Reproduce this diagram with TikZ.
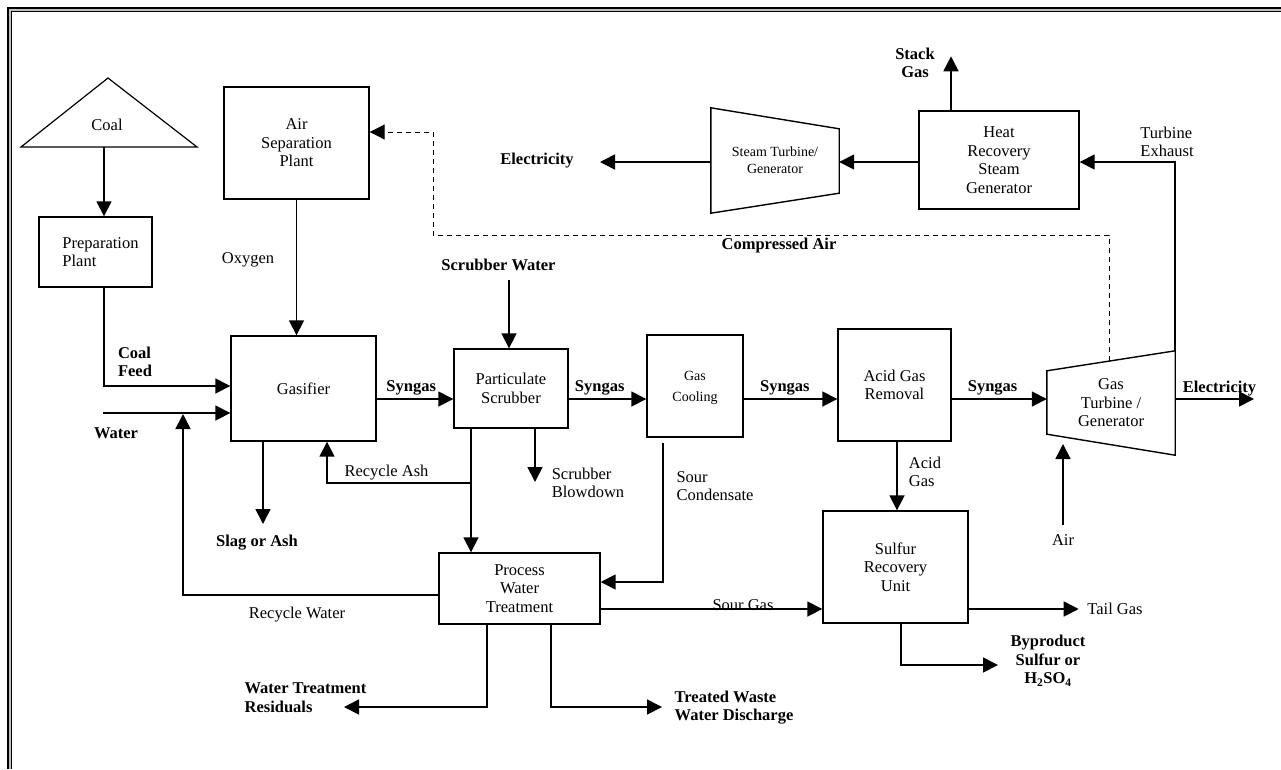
\documentclass[tikz,border=0pt]{standalone}
\usepackage{fontspec}
\setmainfont{Liberation Serif}
\usepackage{tikz}
\usetikzlibrary{positioning, arrows.meta, calc}

\newcommand{\normsz}{\fontsize{16.5}{18.5}\selectfont}
\newcommand{\smallsz}{\fontsize{14}{17}\selectfont}

\begin{document}
\begin{tikzpicture}[
    x=1pt, y=-1pt,
    unit/.style={draw, line width=1.4pt, align=center, inner sep=0pt, font=\normsz},
    lbl/.style={align=center, inner sep=0pt, font=\normsz},
    blbl/.style={align=center, inner sep=0pt, font=\normsz\bfseries},
    arr/.style={-{Triangle[length=15pt, width=15pt]}, line width=1.7pt},
    airline/.style={-{Triangle[length=15pt, width=15pt]}, line width=1pt, dash pattern=on 5pt off 4pt}
]
    \useasboundingbox (0,0) rectangle (1281,769);
    % frame
    \draw[line width=4.7pt] (9.65,769) -- (9.65,9.65) -- (1281,9.65);
    \draw[line width=1.4pt, black!25] (10,769) -- (10,10) -- (1281,10);

    % coal pile
    \draw[line width=1.2pt] (21,147) -- (108,78) -- (197,147) -- cycle;
    \node[lbl] (coal) at (107,125) {Coal};
    \coordinate (coalb) at (104,147);

    % units
    \node[unit, minimum width=113, minimum height=70, align=left] (prep) at (95.5,252) {\hspace*{10pt}Preparation\\\hspace*{10pt}Plant};
    \node[unit, minimum width=145, minimum height=112] (asp) at (296.5,143) {Air\\Separation\\Plant};
    \node[unit, minimum width=145, minimum height=105] (gasifier) at (303.5,388.5) {Gasifier};
    \node[unit, minimum width=114, minimum height=79] (ps) at (511,388.5) {Particulate\\Scrubber};
    \node[unit, minimum width=96, minimum height=102, font=\smallsz, text depth=0pt] (gc) at (695,386) {Gas\\[4pt]Cooling};
    \node[unit, minimum width=113, minimum height=112] (agr) at (894.5,385) {Acid Gas\\Removal};
    \node[unit, minimum width=161, minimum height=71] (pwt) at (519.5,588.5) {Process\\Water\\Treatment};
    \node[unit, minimum width=145, minimum height=112] (sru) at (895.5,567) {Sulfur\\Recovery\\Unit};
    \node[unit, minimum width=160, minimum height=98] (hrsg) at (999,160) {Heat\\Recovery\\Steam\\Generator};

    % turbines
    \node[lbl, minimum width=128, minimum height=105, font=\smallsz] (st) at (775,160.5) {Steam Turbine/\\Generator};
    \draw[line width=1.4pt] (st.north west) -- ([yshift=-21]st.north east) -- ([yshift=20]st.south east) -- (st.south west) -- cycle;
    \node[lbl, minimum width=128, minimum height=104] (gt) at (1111,403) {Gas\\Turbine /\\Generator};
    \draw[line width=1.4pt] ([yshift=-20]gt.north west) -- (gt.north east) -- (gt.south east) -- ([yshift=21]gt.south west) -- cycle;

    % stream labels
    \node[lbl] (oxy) at (248,260) {Oxygen};
    \node[blbl, align=left] (feed) at (135,362) {Coal\\Feed};
    \node[blbl] (waterlbl) at (116,433) {Water};
    \node[blbl] (slag) at (257,543) {Slag or Ash};
    \node[lbl] (ashlbl) at (386.5,473) {Recycle Ash};
    \node[blbl] (scrw) at (498.5,265) {Scrubber Water};
    \node[lbl, align=left] (blow) at (588,483) {Scrubber\\Blowdown};
    \node[lbl, align=left] (sourc) at (715,486) {Sour\\Condensate};
    \node[blbl] (elec2) at (1219.5,389) {Electricity};
    \node[lbl] (airlbl) at (1063,540) {Air};
    \node[lbl, align=left] (acid) at (925,472) {Acid\\Gas};
    \node[blbl] (comp) at (779,246) {Compressed Air};
    \node[blbl] (elec1) at (537,161) {Electricity};
    \node[blbl] (stack) at (915,63) {Stack\\Gas};
    \node[lbl, align=left] (exh) at (1167,142) {Turbine\\Exhaust};
    \node[lbl] (rwater) at (297,615) {Recycle Water};
    \node[blbl, align=left] (resid) at (305.5,697.5) {Water Treatment\\Residuals};
    \node[blbl, align=left] (treat) at (734,707.5) {Treated Waste\\Water Discharge};
    \node[lbl] (sourg) at (743,605) {Sour Gas};
    \node[lbl] (tail) at (1115,609) {Tail Gas};
    \node[blbl] (byp) at (1048,661) {Byproduct\\Sulfur or\\H\textsubscript{2}SO\textsubscript{4}};

    % free ends
    \coordinate (sy) at (0,399);
    \coordinate (water) at (103,413);
    \coordinate (rwup) at (183,414);
    \coordinate (slagend) at (263,524);
    \coordinate (ashj) at (471,483);
    \coordinate (scrin) at (509,280);
    \coordinate (blowend) at (535,482);
    \coordinate (elecend) at (1254,399);
    \coordinate (airin) at (1063,525);
    \coordinate (cain) at (1109,361);
    \coordinate (cabend) at (433,235);
    \coordinate (elec1end) at (600,162);
    \coordinate (bypend) at (998,665);
    \coordinate (resend) at (344,707);
    \coordinate (treend) at (662,707);

    % coal and gasifier feeds
    \draw[arr] (coalb) -- (coalb |- prep.north);
    \draw[arr] (coalb |- prep.south) |- ([yshift=2.5]gasifier.west);
    \draw[arr] (water) -- (water -| gasifier.west);
    \draw[arr] ([yshift=-6.5]pwt.west) -| (rwup);
    \draw[arr] (asp.south) -- (asp.south |- gasifier.north);
    \draw[arr] ([xshift=-40.5]gasifier.south) -- (slagend);
    \draw[arr] (ashj) -| ([xshift=23.5]gasifier.south);

    % syngas train
    \draw[arr] (gasifier.east |- sy) -- node[blbl, above=3pt, pos=.45] (syn1) {Syngas} (ps.west |- sy);
    \draw[arr] (ps.east |- sy) -- node[blbl, above=3pt, pos=.4] (syn2) {Syngas} (gc.west |- sy);
    \draw[arr] (gc.east |- sy) -- node[blbl, above=3pt, pos=.44] (syn3) {Syngas} (agr.west |- sy);
    \draw[arr] (agr.east |- sy) -- node[blbl, above=3pt, pos=.43] (syn4) {Syngas} (gt.west |- sy);
    \draw[arr] (gt.east |- sy) -- (elecend);
    \draw[arr] (airin) -- ++(0,-81);

    % scrubber
    \draw[arr] (scrin) -- (scrin |- ps.north);
    \draw[arr] ([xshift=-40]ps.south) -- ([xshift=-40]ps.south |- pwt.north);
    \draw[arr] ([xshift=24]ps.south) -- (blowend);
    \draw[arr] ([xshift=-32,yshift=-5]gc.south) |- ([yshift=6.5]pwt.east);

    % power block
    \draw[arr] (gt.north east) |- ([yshift=-2]hrsg.east);
    \draw[arr] ([yshift=-2]hrsg.west) -- ([yshift=-2]hrsg.west -| st.east);
    \draw[arr] ([yshift=-1.5]st.west) -- (elec1end);
    \draw[arr] ([xshift=-48]hrsg.north) -- ++(0,-54);
    \draw[airline] (cain) |- (cabend) |- ([yshift=11]asp.east);

    % sulfur and water
    \draw[arr] ([xshift=2.5]agr.south) -- ([xshift=2.5]agr.south |- sru.north);
    \draw[arr] ([yshift=-20.5]pwt.east) -- ([yshift=-20.5]pwt.east -| sru.west);
    \draw[arr] ([yshift=-42]sru.east) -- ++(110,0);
    \draw[arr] ([xshift=5.5]sru.south) |- (bypend);
    \draw[arr] ([xshift=-32.5]pwt.south) |- (resend);
    \draw[arr] ([xshift=31.5]pwt.south) |- (treend);
\end{tikzpicture}
\end{document}
